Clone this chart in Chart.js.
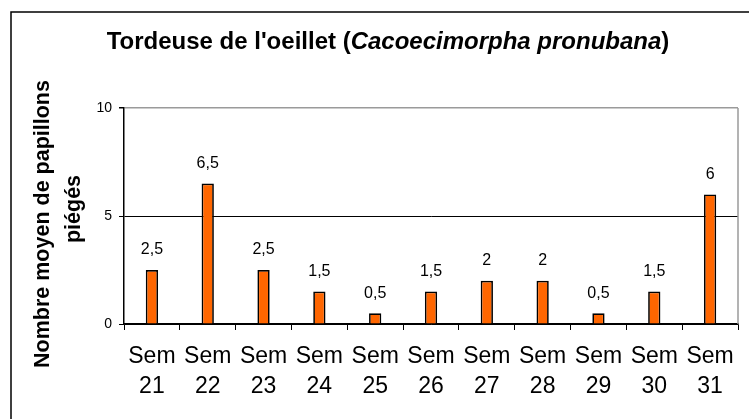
<!DOCTYPE html>
<html>
<head>
<meta charset="utf-8">
<script src="https://cdn.jsdelivr.net/npm/chart.js@4/dist/chart.umd.min.js"></script>
<style>
html,body{margin:0;padding:0;background:#fff;}
#wrap{width:749px;height:419px;position:relative;}
</style>
</head>
<body>
<div id="wrap"><canvas id="c" width="749" height="419"></canvas></div>
<script>
const categories = [['Sem','21'],['Sem','22'],['Sem','23'],['Sem','24'],['Sem','25'],['Sem','26'],['Sem','27'],['Sem','28'],['Sem','29'],['Sem','30'],['Sem','31']];
const values = [2.5, 6.5, 2.5, 1.5, 0.5, 1.5, 2, 2, 0.5, 1.5, 6];
const yTicks = [0, 5, 10];
const titleParts = [
  {text: "Tordeuse de l'oeillet (", italic: false},
  {text: "Cacoecimorpha pronubana", italic: true},
  {text: ")", italic: false}
];
const yTitleLines = ['Nombre moyen de papillons', 'piégés'];

const FONT = '"Liberation Sans", Arial, sans-serif';

const decorations = {
  id: 'decorations',
  beforeDraw(chart) {
    const ctx = chart.ctx;
    ctx.save();
    ctx.fillStyle = '#fff';
    ctx.fillRect(0, 0, chart.width, chart.height);
    ctx.restore();
  },
  afterDraw(chart) {
    const ctx = chart.ctx;
    const a = chart.chartArea;
    ctx.save();
    // outer frame
    ctx.strokeStyle = '#000';
    ctx.lineWidth = 1.5;
    ctx.beginPath();
    ctx.moveTo(11, chart.height);
    ctx.lineTo(11, 12);
    ctx.lineTo(chart.width, 12);
    ctx.stroke();
    // right border of plot (gray)
    ctx.strokeStyle = '#9a9a9a';
    ctx.lineWidth = 1.5;
    ctx.beginPath();
    ctx.moveTo(a.right, a.top);
    ctx.lineTo(a.right, a.bottom);
    ctx.stroke();
    // title
    ctx.fillStyle = '#000';
    ctx.textBaseline = 'alphabetic';
    const size = 24;
    let total = 0;
    const widths = titleParts.map(p => {
      ctx.font = (p.italic ? 'italic ' : '') + 'bold ' + size + 'px ' + FONT;
      const w = ctx.measureText(p.text).width;
      total += w;
      return w;
    });
    let x = 388 - total / 2;
    titleParts.forEach((p, i) => {
      ctx.font = (p.italic ? 'italic ' : '') + 'bold ' + size + 'px ' + FONT;
      ctx.textAlign = 'left';
      ctx.fillText(p.text, x, 49);
      x += widths[i];
    });
    // y axis title
    ctx.save();
    ctx.translate(0, (a.top + a.bottom) / 2);
    ctx.rotate(-Math.PI / 2);
    ctx.font = 'bold 21.5px ' + FONT;
    ctx.textAlign = 'center';
    ctx.textBaseline = 'middle';
    ctx.fillText(yTitleLines[0], -8, 43);
    ctx.fillText(yTitleLines[1], 7, 74);
    ctx.restore();
    // data labels
    const meta = chart.getDatasetMeta(0);
    ctx.font = '16px ' + FONT;
    ctx.textAlign = 'center';
    ctx.textBaseline = 'middle';
    meta.data.forEach((bar, i) => {
      const v = values[i];
      ctx.fillText(String(v).replace('.', ','), bar.x, bar.y - 20);
    });
    ctx.restore();
  }
};

new Chart(document.getElementById('c'), {
  type: 'bar',
  data: {
    labels: categories,
    datasets: [{
      data: values,
      backgroundColor: '#FF6600',
      borderColor: '#000',
      borderWidth: 1.7,
      barPercentage: 0.22,
      categoryPercentage: 1
    }]
  },
  options: {
    responsive: false,
    devicePixelRatio: 1,
    animation: false,
    layout: {padding: {left: 0, top: 108, right: 11, bottom: 0}},
    plugins: {legend: {display: false}, title: {display: false}, tooltip: {enabled: false}},
    scales: {
      x: {
        offset: true,
        grid: {offset: true, drawOnChartArea: false, color: '#000', tickLength: 6, lineWidth: 1},
        border: {color: '#000', width: 1.5},
        ticks: {color: '#000', font: {family: FONT, size: 23, lineHeight: 1.3}, padding: 12, maxRotation: 0, autoSkip: false},
        afterFit(s) { s.height = 95; }
      },
      y: {
        min: 0, max: 10,
        afterBuildTicks(s) { s.ticks = yTicks.map(v => ({value: v})); },
        grid: {
          color: ctx => ctx.tick && ctx.tick.value === 10 ? '#9a9a9a' : '#000',
          lineWidth: ctx => ctx.tick && ctx.tick.value === 10 ? 1.5 : 1,
          tickColor: '#000',
          tickLength: 5
        },
        border: {color: '#000', width: 1.5},
        ticks: {color: '#000', font: {family: FONT, size: 14}, padding: 7},
        afterFit(s) { s.width = 124; }
      }
    }
  },
  plugins: [decorations]
});
</script>
</body>
</html>
